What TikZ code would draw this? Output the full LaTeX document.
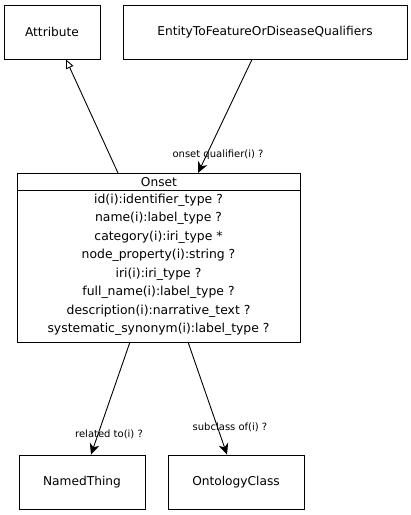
\documentclass[tikz,border=0pt]{standalone}
\usepackage{fontspec}
\setmainfont{DejaVu Sans}
\usetikzlibrary{arrows.meta}
\begin{document}
\begin{tikzpicture}[x=1pt,y=-1pt,
  box/.style={draw,line width=0.9pt,inner sep=0pt,font=\fontsize{12.2}{13}\selectfont},
  attr/.style={inner sep=0pt,font=\fontsize{12.4}{13}\selectfont},
  lbl/.style={inner sep=0pt,font=\fontsize{10}{11}\selectfont},
  edge/.style={line width=0.9pt},
  inh/.style={edge,-{Triangle[open,length=9pt,width=8pt]}},
  assoc/.style={edge,-{Stealth[length=11pt,width=10pt,inset=3.5pt]}}]
\useasboundingbox (0,0) rectangle (411,515);
\node[box,minimum width=96pt,minimum height=54pt] (attribute) at (52,32) {Attribute};
\node[box,minimum width=284pt,minimum height=54pt] (entity) at (265,32) {EntityToFeatureOrDiseaseQualifiers};
\draw[line width=0.9pt] (17,173) rectangle (300,342);
\node[draw,line width=0.9pt,minimum width=283pt,minimum height=17pt,inner sep=0pt,anchor=north west,font=\fontsize{12.2}{13}\selectfont] (onset) at (17,173) {Onset};
\node[attr] (a1) at (158.5,200) {id(i):identifier\_type ?};
\node[attr] (a2) at (158.5,218.5) {name(i):label\_type ?};
\node[attr] (a3) at (158.5,237) {category(i):iri\_type *};
\node[attr] (a4) at (158.5,255.5) {node\_property(i):string ?};
\node[attr] (a5) at (158.5,274) {iri(i):iri\_type ?};
\node[attr] (a6) at (158.5,292.5) {full\_name(i):label\_type ?};
\node[attr] (a7) at (158.5,311) {description(i):narrative\_text ?};
\node[attr] (a8) at (158.5,329.5) {systematic\_synonym(i):label\_type ?};
\coordinate (onsetbot) at (158.5,342);
\node[box,minimum width=126pt,minimum height=54pt] (named) at (82,482) {NamedThing};
\node[box,minimum width=136pt,minimum height=54pt] (ontology) at (236,482) {OntologyClass};
\draw[inh] (onset.north -| 118,0) -- (attribute.south -| 66,0);
\draw[assoc] (entity.south -| 252,0) -- (onset.north -| 198,0);
\draw[assoc] (onsetbot -| 130,0) -- (named.north -| 91,0);
\draw[assoc] (onsetbot -| 188,0) -- (ontology.north -| 227,0);
\node[lbl] (l1) at (218,155) {onset qualifier(i) ?};
\node[lbl] (l2) at (109,434.5) {related to(i) ?};
\node[lbl] (l3) at (230,427) {subclass of(i) ?};
\end{tikzpicture}
\end{document}
